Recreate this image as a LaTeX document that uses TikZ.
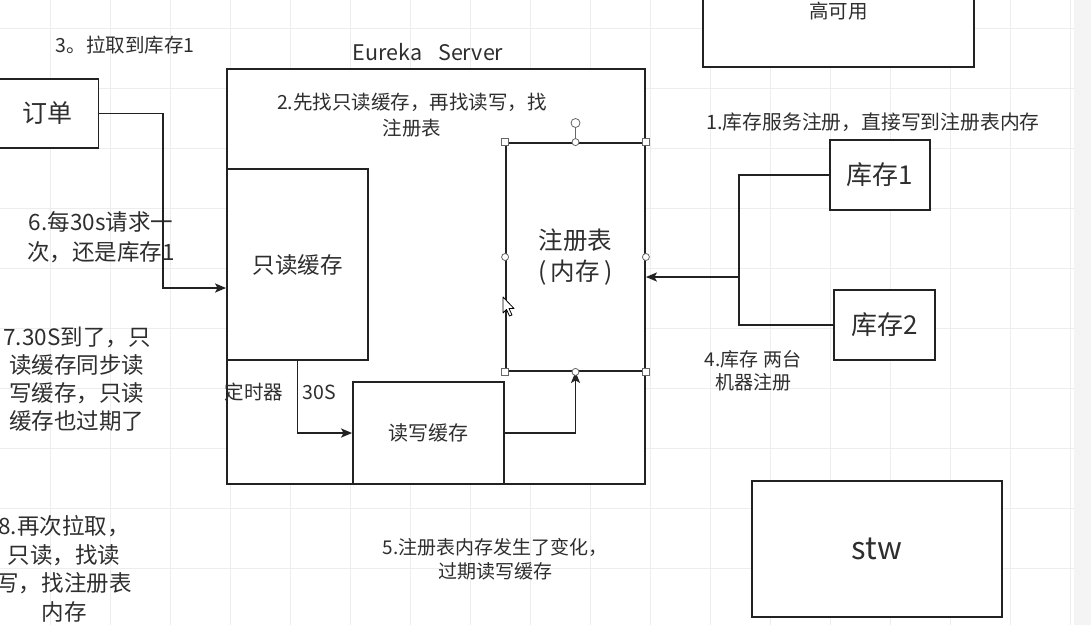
\documentclass[tikz,border=0pt]{standalone}
\usepackage{fontspec}
\setmainfont{Noto Sans CJK SC}
\usetikzlibrary{arrows.meta,calc}
\definecolor{ink}{HTML}{222222}
\definecolor{txt}{HTML}{2E2E2E}
\definecolor{gridc}{HTML}{EDEDED}
\tikzset{
  box/.style={draw=ink,line width=1.8pt,fill=white,inner sep=0pt,text=txt},
  conn/.style={draw=ink,line width=1.8pt},
  arr/.style={conn,-{Stealth[length=11pt,width=9pt,inset=2.5pt]}},
  lbl/.style={text=txt,inner sep=0pt,align=center},
  fsmall/.style={font=\fontsize{19.5}{26}\selectfont},
  sqh/.style={draw=gray!80!black,fill=white,line width=0.8pt,minimum size=7pt,inner sep=0pt},
  cih/.style={draw=gray!80!black,fill=white,line width=0.8pt,circle,minimum size=7pt,inner sep=0pt}
}
\begin{document}
\begin{tikzpicture}[x=1pt,y=-1pt]
\useasboundingbox (0,0) rectangle (1091,625);
\fill[white] (0,0) rectangle (1091,625);
% background grid
\foreach \gx in {50,110,...,1070} \draw[gridc,line width=1pt] (\gx,0) -- (\gx,625);
\foreach \gy in {28,88,...,625} \draw[gridc,line width=1pt] (0,\gy) -- (1091,\gy);
\fill[gray!9] (1074,0) rectangle (1091,625);

% boxes
\node[box,minimum width=418pt,minimum height=415pt] (srv) at (436,276.5) {};
\node[box,minimum width=141pt,minimum height=191pt,font=\fontsize{22.5}{28}\selectfont] (ro) at (297.5,264.5) {只读缓存};
\node[box,minimum width=139pt,minimum height=228pt,font=\fontsize{24.5}{31}\selectfont,align=center] (reg) at (575.5,257) {注册表\\(\,内存\,)};
\node[box,minimum width=151pt,minimum height=102pt,font=\fontsize{20}{26}\selectfont] (rw) at (428.5,433) {读写缓存};
\node[box,minimum width=102pt,minimum height=69pt,font=\fontsize{25}{30}\selectfont] (order) at (47.5,113.5) {订单};
\node[box,minimum width=100pt,minimum height=70pt,font=\fontsize{26}{30}\selectfont] (kc1) at (880,175) {库存1};
\node[box,minimum width=101pt,minimum height=70pt,font=\fontsize{26}{30}\selectfont] (kc2) at (884.5,325) {库存2};
\node[box,minimum width=271pt,minimum height=112pt,font=\fontsize{19.5}{24}\selectfont] (ha) at (838.5,11) {高可用};
\node[box,minimum width=250pt,minimum height=136pt,font=\fontsize{31}{36}\selectfont] (stw) at (877,549) {stw};

% labels
\node[lbl,font=\fontsize{21.5}{26}\selectfont] (eur) at (428,52) {Eureka\hspace{16pt}Server};
\node[lbl,fsmall] (t3) at (125,45) {3。拉取到库存1};
\node[lbl,fsmall] (t2) at (412,115) {2.先找只读缓存，再找读写，找\\注册表};
\node[lbl,font=\fontsize{19.8}{24}\selectfont] (t1) at (873,122) {1.库存服务注册，直接写到注册表内存};
\node[lbl,font=\fontsize{19}{23}\selectfont] (t4) at (753,371) {4.库存 两台\\机器注册};
\node[lbl,font=\fontsize{19}{24}\selectfont] (t5) at (495,559) {5.注册表内存发生了变化，\\过期读写缓存};
\node[lbl,font=\fontsize{22.5}{30}\selectfont] (t6) at (101,237) {6.每30s请求一\\次，还是库存1};
\node[lbl,font=\fontsize{22.5}{28}\selectfont] (t7) at (77,379) {7.30S到了，只\\读缓存同步读\\写缓存，只读\\缓存也过期了};
\node[lbl,font=\fontsize{22.5}{28.5}\selectfont] (t8) at (64,569) {8.再次拉取，\\只读，找读\\写，找注册表\\内存};
\node[lbl,font=\fontsize{19.5}{24}\selectfont] (tm) at (254,392) {定时器};
\node[lbl,font=\fontsize{19.5}{24}\selectfont] (ts) at (319,392) {30S};

% connectors
\coordinate (j1) at (163,288);
\draw[arr] (order.east) -| (j1) -- (j1 -| ro.west);
\draw[arr] (ro.south) |- (rw.west);
\draw[arr] (rw.east) -| (reg.south);
\coordinate (j2) at (739,277);
\draw[conn] (kc1.west) -| (j2);
\draw[conn] (kc2.west) -| (j2);
\draw[arr] (j2) -- (j2 -| reg.east);

% selection handles on reg
\coordinate (rot) at (575.5,123);
\draw[gray!80!black,line width=0.8pt] (rot) -- (reg.north);
\node[cih,minimum size=9pt] (rh) at (rot) {};
\foreach \a in {north west,north east,south west,south east} \node[sqh] at (reg.\a) {};
\foreach \a in {north,south,west,east} \node[cih] at (reg.\a) {};

% mouse cursor
\draw[black,fill=white,line width=0.8pt,line join=round]
  (503,297) -- (503,313) -- (506.5,309.5) -- (509.5,316) -- (512,315) -- (509,308.5) -- (514,308.5) -- cycle;
\end{tikzpicture}
\end{document}
